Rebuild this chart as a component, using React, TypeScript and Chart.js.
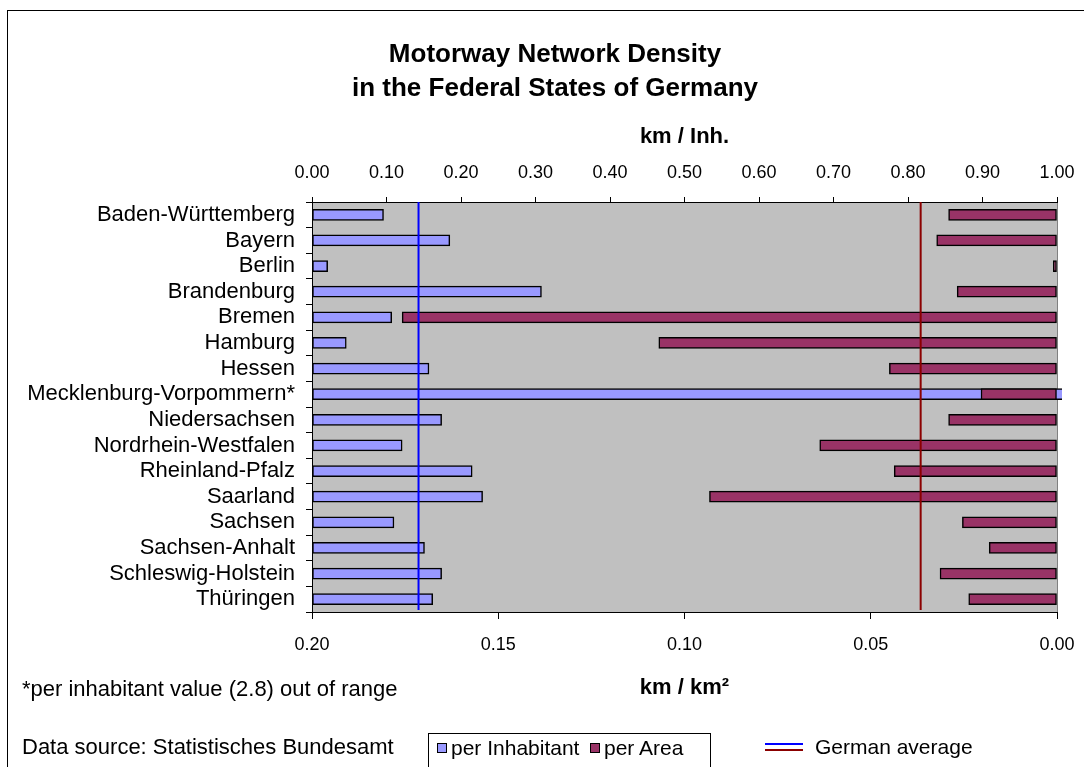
import React, { useEffect, useRef } from "react";
import { Chart, registerables } from "chart.js";

Chart.register(...registerables);

const FONT = "'Liberation Sans', Arial, Helvetica, sans-serif";

const states = [
  "Baden-Württemberg",
  "Bayern",
  "Berlin",
  "Brandenburg",
  "Bremen",
  "Hamburg",
  "Hessen",
  "Mecklenburg-Vorpommern*",
  "Niedersachsen",
  "Nordrhein-Westfalen",
  "Rheinland-Pfalz",
  "Saarland",
  "Sachsen",
  "Sachsen-Anhalt",
  "Schleswig-Holstein",
  "Thüringen",
];

// km per inhabitant (top axis)
const perInhabitant = [
  0.096, 0.185, 0.021, 0.308, 0.107, 0.046, 0.157, 2.8, 0.174, 0.121, 0.215,
  0.229, 0.11, 0.151, 0.174, 0.162,
];

// km per km² (bottom, reversed axis)
const perArea = [
  0.0291, 0.0323, 0.001, 0.0268, 0.1758, 0.1069, 0.045, 0.0204, 0.0291, 0.0637,
  0.0437, 0.0933, 0.0254, 0.0182, 0.0314, 0.0237,
];

const avgPerInhabitant = 0.143;
const avgPerArea = 0.0366;

const inhAxisMin = 0;
const inhAxisMax = 1;
const inhAxisStep = 0.1;
const areaAxisMin = 0;
const areaAxisMax = 0.2;
const areaAxisStep = 0.05;

const plotBackground = {
  id: "plotBackground",
  beforeDraw(chart: any) {
    const { ctx, chartArea } = chart;
    ctx.save();
    ctx.fillStyle = "#C0C0C0";
    ctx.fillRect(
      chartArea.left,
      chartArea.top,
      chartArea.right - chartArea.left,
      chartArea.bottom - chartArea.top
    );
    ctx.strokeStyle = "#808080";
    ctx.lineWidth = 1;
    ctx.beginPath();
    ctx.moveTo(chartArea.right + 0.5, chartArea.top);
    ctx.lineTo(chartArea.right + 0.5, chartArea.bottom);
    ctx.stroke();
    ctx.restore();
  },
};

const averageLines = {
  id: "averageLines",
  afterDatasetsDraw(chart: any) {
    const { ctx, chartArea } = chart;
    const draw = (px: number, color: string) => {
      ctx.save();
      ctx.strokeStyle = color;
      ctx.lineWidth = 2;
      ctx.beginPath();
      ctx.moveTo(px, chartArea.top);
      ctx.lineTo(px, chartArea.bottom - 2);
      ctx.stroke();
      ctx.restore();
    };
    draw(chart.scales.x.getPixelForValue(avgPerInhabitant), "#0000FF");
    draw(chart.scales.x2.getPixelForValue(avgPerArea), "#8B0000");
  },
};

const fmt = (v: any) => Number(v).toFixed(2);

export default function App() {
  const canvasRef = useRef<HTMLCanvasElement | null>(null);

  useEffect(() => {
    if (!canvasRef.current) return;
    const chart = new Chart(canvasRef.current, {
      type: "bar",
      data: {
        labels: states,
        datasets: [
          {
            label: "per Inhabitant",
            data: perInhabitant,
            xAxisID: "x",
            yAxisID: "y",
            backgroundColor: "#9999FF",
            borderColor: "#000000",
            borderWidth: 1.5,
            borderSkipped: false,
            barThickness: 11,
            grouped: false,
            order: 2,
            clip: { left: 0, top: 0, right: 5, bottom: 0 },
          } as any,
          {
            label: "per Area",
            data: perArea,
            xAxisID: "x2",
            yAxisID: "y",
            backgroundColor: "#993366",
            borderColor: "#000000",
            borderWidth: 1.5,
            borderSkipped: false,
            barThickness: 11,
            grouped: false,
            order: 1,
          } as any,
        ],
      },
      options: {
        animation: false,
        responsive: false,
        maintainAspectRatio: false,
        indexAxis: "y",
        events: [],
        layout: { padding: { left: 0, right: 27, top: 122, bottom: 55 } },
        plugins: {
          legend: { display: false },
          tooltip: { enabled: false },
          title: { display: false },
        },
        scales: {
          y: {
            type: "category",
            position: "left",
            offset: true,
            grid: {
              drawOnChartArea: false,
              tickLength: 6,
              color: "#000000",
              offset: true,
            },
            border: { color: "#000000", width: 1 },
            ticks: {
              autoSkip: false,
              padding: 11,
              color: "#000000",
              font: { family: FONT, size: 22 },
            },
            afterFit: (s: any) => {
              s.width = 312;
              s.paddingTop = 0;
              s.paddingBottom = 0;
            },
          },
          x: {
            type: "linear",
            position: "top",
            min: inhAxisMin,
            max: inhAxisMax,
            ticks: {
              stepSize: inhAxisStep,
              callback: fmt,
              padding: 13,
              color: "#000000",
              maxRotation: 0,
              font: { family: FONT, size: 18 },
            },
            grid: { drawOnChartArea: false, tickLength: 5, color: "#000000" },
            border: { color: "#000000", width: 1 },
            title: {
              display: true,
              text: "km / Inh.",
              color: "#000000",
              font: { family: FONT, size: 22, weight: "bold" },
              padding: { top: 2, bottom: 0 },
            },
            afterFit: (s: any) => {
              s.height = 80;
              s.paddingLeft = 0;
              s.paddingRight = 0;
            },
          },
          x2: {
            type: "linear",
            position: "bottom",
            reverse: true,
            min: areaAxisMin,
            max: areaAxisMax,
            ticks: {
              stepSize: areaAxisStep,
              callback: fmt,
              padding: 15,
              color: "#000000",
              maxRotation: 0,
              font: { family: FONT, size: 18 },
            },
            grid: { drawOnChartArea: false, tickLength: 7, color: "#000000" },
            border: { color: "#000000", width: 1 },
            title: {
              display: true,
              text: "km / km²",
              color: "#000000",
              font: { family: FONT, size: 22, weight: "bold" },
              padding: { top: 0, bottom: 11 },
            },
            afterFit: (s: any) => {
              s.height = 100;
              s.paddingLeft = 0;
              s.paddingRight = 0;
            },
          },
        },
      } as any,
      plugins: [plotBackground, averageLines],
    });
    return () => chart.destroy();
  }, []);

  const text22: React.CSSProperties = {
    position: "absolute",
    fontFamily: FONT,
    fontSize: 22,
    lineHeight: "24px",
    color: "#000",
    whiteSpace: "nowrap",
  };
  const text21: React.CSSProperties = { ...text22, fontSize: 21 };

  return (
    <div
      style={{
        position: "fixed",
        left: 0,
        top: 0,
        width: 1084,
        height: 767,
        overflow: "hidden",
        background: "#fff",
      }}
    >
      <div
        style={{
          position: "absolute",
          left: 7,
          top: 10,
          width: 1077,
          height: 757,
          borderLeft: "1px solid #000",
          borderTop: "1px solid #000",
          boxSizing: "border-box",
        }}
      />
      <canvas
        ref={canvasRef}
        width={1084}
        height={767}
        style={{ position: "absolute", left: 0, top: 0, width: 1084, height: 767 }}
      />
      <div
        style={{
          position: "absolute",
          left: 255,
          top: 36,
          width: 600,
          textAlign: "center",
          fontFamily: FONT,
          fontWeight: "bold",
          fontSize: 26,
          lineHeight: "34px",
          color: "#000",
        }}
      >
        Motorway Network Density
        <br />
        in the Federal States of Germany
      </div>
      <div style={{ ...text22, left: 22, top: 677 }}>
        *per inhabitant value (2.8) out of range
      </div>
      <div style={{ ...text22, left: 22, top: 735 }}>
        Data source: Statistisches Bundesamt
      </div>
      <div
        style={{
          position: "absolute",
          left: 428,
          top: 733,
          width: 283,
          height: 40,
          border: "1px solid #000",
          boxSizing: "border-box",
          background: "#fff",
        }}
      >
        <div
          style={{
            position: "absolute",
            left: 8,
            top: 9,
            width: 10,
            height: 10,
            background: "#9999FF",
            border: "1px solid #000",
            boxSizing: "border-box",
          }}
        />
        <div style={{ ...text21, left: 22, top: 2 }}>per Inhabitant</div>
        <div
          style={{
            position: "absolute",
            left: 161,
            top: 9,
            width: 10,
            height: 10,
            background: "#993366",
            border: "1px solid #000",
            boxSizing: "border-box",
          }}
        />
        <div style={{ ...text21, left: 175, top: 2 }}>per Area</div>
      </div>
      <div
        style={{
          position: "absolute",
          left: 765,
          top: 743,
          width: 38,
          height: 2,
          background: "#0000FF",
        }}
      />
      <div
        style={{
          position: "absolute",
          left: 765,
          top: 749,
          width: 38,
          height: 2,
          background: "#8B0000",
        }}
      />
      <div style={{ ...text21, left: 815, top: 735 }}>German average</div>
    </div>
  );
}
